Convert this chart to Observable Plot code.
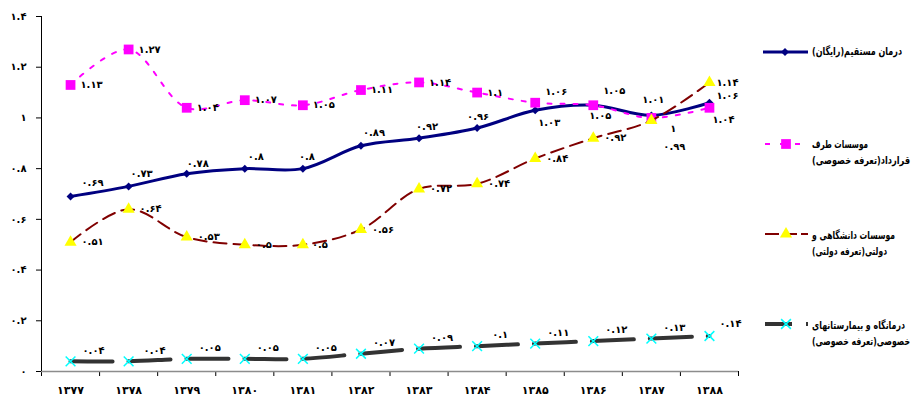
<!DOCTYPE html>
<html><head><meta charset="utf-8">
<script src="https://cdn.jsdelivr.net/npm/d3@7"></script>
<script src="https://cdn.jsdelivr.net/npm/@observablehq/plot@0.6"></script>
<style>
body{margin:0;background:#fff;}
#wrap{position:relative;width:911px;height:400px;overflow:hidden;font-family:"DejaVu Sans",sans-serif;}
.lg{position:absolute;left:812px;direction:rtl;white-space:nowrap;font-size:11px;font-weight:bold;line-height:13px;color:#000;transform-origin:0 50%;}
#wrap svg{position:absolute;left:0;top:0;overflow:visible;}
</style></head><body><div id="wrap"></div>
<script>
// ---- data ----
const years = [1377,1378,1379,1380,1381,1382,1383,1384,1385,1386,1387,1388];
const yTicks = [0,0.2,0.4,0.6,0.8,1,1.2,1.4];
const seriesNames = [
  "درمان مستقیم(رایگان)",
  "موسسات طرف قرارداد(تعرفه خصوصی)",
  "موسسات دانشگاهی و دولتی(تعرفه دولتی)",
  "درمانگاه و بیمارستانهای خصوصی(تعرفه خصوصی)"
];
const legendLines = [
  ["درمان مستقیم(رایگان)"],
  ["موسسات طرف", "قرارداد(تعرفه خصوصی)"],
  ["موسسات دانشگاهی و", "دولتی(تعرفه دولتی)"],
  ["درمانگاه و بیمارستانهای", "خصوصی(تعرفه خصوصی)"]
];
const direct   = [0.69,0.73,0.78,0.8,0.8,0.89,0.92,0.96,1.03,1.05,1.01,1.06];
const contract = [1.13,1.27,1.04,1.07,1.05,1.11,1.14,1.1,1.06,1.05,1,1.04];
const govt     = [0.51,0.64,0.53,0.5,0.5,0.56,0.72,0.74,0.84,0.92,0.99,1.14];
const privateC = [0.04,0.04,0.05,0.05,0.05,0.07,0.09,0.1,0.11,0.12,0.13,0.14];

// ---- helpers ----
const fa = v => String(v).replace(/\d/g, d => "۰۱۲۳۴۵۶۷۸۹"[d]);
const rows = (vals, name) => years.map((y,i) => ({year:y, value:vals[i], series:name}));
const dBlue = rows(direct, seriesNames[0]);
const dPink = rows(contract, seriesNames[1]);
const dGov  = rows(govt, seriesNames[2]);
const dPriv = rows(privateC, seriesNames[3]);
const bounds = years.map(y => y - 0.5).concat([years[years.length-1] + 0.5]);

// label placement (styling)
const place = {
  blue: {def:[12,-13], o:{1377:[22,-14],1378:[13,-13],1379:[11,-10],1380:[11,-12],1381:[4,-12],1382:[13,-13],1383:[8,-11],1384:[1,-11],1385:[14,12],1386:[7,11],1387:[2,-16],1388:[18,-7]}},
  pink: {def:[21,0], o:{1384:[18,0],1385:[21,-11],1386:[21,-14],1387:[22,11],1388:[14,12]}},
  gov:  {def:[22,0], o:{1380:[19,0],1381:[17,0],1387:[23,26],1388:[18,0]}},
  priv: {def:[23,-11], o:{1378:[26,-11],1388:[21,-12]}}
};
const labels = (data, key) => data.map(d => {
  const [dx, dy] = place[key].o[d.year] || place[key].def;
  return Plot.text([d], {x:"year", y:"value", text: d => fa(d.value), dx, dy,
    fontSize:10, fontWeight:"bold", fill:"#000", textAnchor:"middle"});
});

const curve = "catmull-rom";
const chart = Plot.plot({
  width: 911, height: 400,
  marginLeft: 41, marginRight: 173, marginTop: 16, marginBottom: 29,
  style: {fontFamily: "DejaVu Sans, sans-serif", background: "white"},
  x: {type: "linear", domain: [bounds[0], bounds[bounds.length-1]]},
  y: {domain: [0, 1.4]},
  marks: [
    Plot.axisY({ticks: yTicks, tickSize: 5, tickPadding: 10, tickFormat: fa, fontSize: 10, fontWeight: "bold", label: null}),
    Plot.axisX({ticks: bounds, tickSize: 5, tickFormat: () => "", label: null}),
    Plot.axisX({ticks: years, tickSize: 0, tickPadding: 15, tickFormat: fa, fontSize: 11, fontWeight: "bold", label: null}),
    Plot.ruleY([0], {stroke: "#8c8c8c", strokeWidth: 1.5}),
    Plot.ruleX([bounds[0]], {stroke: "#000", strokeWidth: 1}),
    // series 1
    Plot.line(dBlue, {x:"year", y:"value", stroke:"#000080", strokeWidth:3, curve}),
    Plot.dot(dBlue, {x:"year", y:"value", symbol:"diamond2", r:3.6, fill:"#000080", stroke:"none"}),
    // series 2
    Plot.line(dPink, {x:"year", y:"value", stroke:"#ff00ff", strokeWidth:2, strokeDasharray:"4,9", curve}),
    Plot.dot(dPink, {x:"year", y:"value", symbol:"square", r:5.5, fill:"#ff00ff", stroke:"none"}),
    // series 3
    Plot.line(dGov, {x:"year", y:"value", stroke:"#800000", strokeWidth:2, strokeDasharray:"13,7", curve}),
    Plot.dot(dGov, {x:"year", y:"value", symbol:"triangle", r:4.5, fill:"#ffff00", stroke:"none"}),
    // series 4
    Plot.line(dPriv, {x:"year", y:"value", stroke:"#333333", strokeWidth:4, strokeDasharray:"42,16", curve}),
    Plot.dot(dPriv, {x:"year", y:"value", symbol:"times", r:4.5, stroke:"#00ffff", strokeWidth:1.5}),
    ...labels(dBlue, "blue"),
    ...labels(dPink, "pink"),
    ...labels(dGov, "gov"),
    ...labels(dPriv, "priv")
  ]
});
const wrap = document.getElementById("wrap");
wrap.appendChild(chart);

// ---- legend ----
const svg = d3.select(chart);
const g = svg.append("g");
const ly = [52, 144, 234, 324];
g.append("line").attr("x1",763).attr("x2",808).attr("y1",ly[0]).attr("y2",ly[0]).attr("stroke","#000080").attr("stroke-width",3);
g.append("path").attr("d", d3.symbol(d3.symbolDiamond2, 40)()).attr("transform",`translate(785,${ly[0]})`).attr("fill","#000080");
g.append("line").attr("x1",765).attr("x2",800).attr("y1",ly[1]).attr("y2",ly[1]).attr("stroke","#ff00ff").attr("stroke-width",2).attr("stroke-dasharray","5,10");
g.append("path").attr("d", d3.symbol(d3.symbolSquare, 95)()).attr("transform",`translate(786,${ly[1]})`).attr("fill","#ff00ff");
g.append("line").attr("x1",765).attr("x2",808).attr("y1",ly[2]).attr("y2",ly[2]).attr("stroke","#800000").attr("stroke-width",2).attr("stroke-dasharray","14,4");
g.append("path").attr("d", d3.symbol(d3.symbolTriangle, 64)()).attr("transform",`translate(786,${ly[2]})`).attr("fill","#ffff00");
g.append("line").attr("x1",765).attr("x2",808).attr("y1",ly[3]).attr("y2",ly[3]).attr("stroke","#333").attr("stroke-width",4).attr("stroke-dasharray","27,14,2,20");
g.append("path").attr("d", d3.symbol(d3.symbolTimes, 64)()).attr("transform",`translate(786,${ly[3]})`).attr("stroke","#00ffff").attr("stroke-width",1.5).attr("fill","none");

// legend text rows (top px) and target widths, matching the reference layout
const textTops = [[45],[138,154],[229,245],[319,335]];
const textWidths = [[90],[56,98],[83,75],[93,98]];
legendLines.forEach((lines, i) => {
  lines.forEach((t, j) => {
    const div = document.createElement("div");
    div.className = "lg";
    div.style.top = textTops[i][j] + "px";
    div.textContent = t;
    wrap.appendChild(div);
    const w = div.getBoundingClientRect().width;
    div.style.transform = `scaleX(${textWidths[i][j] / w})`;
  });
});
</script>
</body></html>
